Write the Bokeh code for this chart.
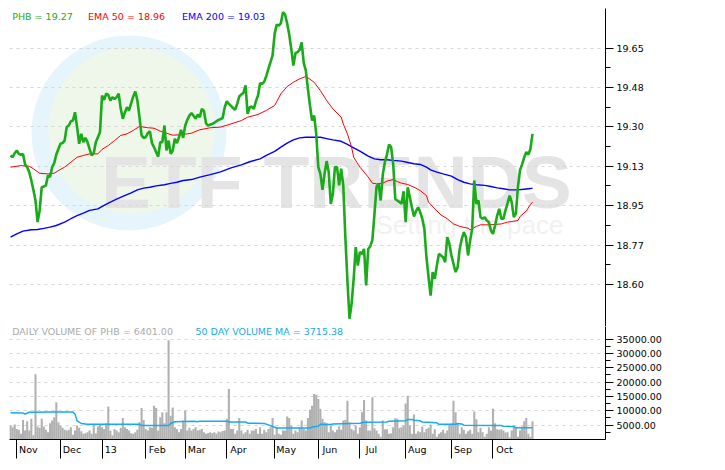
from bokeh.plotting import figure
from bokeh.models import Range1d, FixedTicker, Label
from bokeh.layouts import column
from bokeh.embed import file_html
from bokeh.resources import INLINE
from bokeh.core.properties import value

# ---------------- data ----------------
price = [
    19.173, 19.165, 19.183, 19.195, 19.180, 19.176, 19.180, 19.133, 19.121, 19.099,
    19.062, 19.020, 18.973, 18.877, 18.929, 19.032, 19.035, 19.040, 19.084, 19.077,
    19.121, 19.139, 19.177, 19.202, 19.225, 19.228, 19.239, 19.299, 19.306, 19.325,
    19.328, 19.365, 19.299, 19.225, 19.269, 19.232, 19.251, 19.232, 19.202, 19.173,
    19.183, 19.232, 19.254, 19.276, 19.439, 19.420, 19.447, 19.442, 19.417, 19.432,
    19.424, 19.432, 19.447, 19.380, 19.336, 19.365, 19.387, 19.373, 19.405, 19.435,
    19.457, 19.417, 19.343, 19.262, 19.251, 19.254, 19.272, 19.281, 19.228, 19.210,
    19.188, 19.168, 19.232, 19.232, 19.306, 19.195, 19.239, 19.180, 19.195, 19.247,
    19.228, 19.254, 19.287, 19.251, 19.306, 19.331, 19.350, 19.361, 19.349, 19.336,
    19.355, 19.343, 19.380, 19.370, 19.316, 19.306, 19.310, 19.313, 19.318, 19.325,
    19.331, 19.334, 19.340, 19.387, 19.414, 19.402, 19.393, 19.384, 19.376, 19.402,
    19.435, 19.444, 19.451, 19.484, 19.358, 19.387, 19.390, 19.380, 19.414, 19.439,
    19.494, 19.491, 19.501, 19.526, 19.558, 19.587, 19.617, 19.713, 19.754, 19.750,
    19.760, 19.809, 19.799, 19.760, 19.710, 19.646, 19.572, 19.627, 19.632, 19.642,
    19.675, 19.583, 19.550, 19.469, 19.395, 19.328, 19.350, 19.269, 19.121, 19.091,
    19.020, 19.091, 19.148, 19.099, 18.958, 19.003, 19.121, 19.121, 19.040, 19.114,
    19.040, 18.810, 18.618, 18.448, 18.514, 18.625, 18.766, 18.684, 18.744, 18.736,
    18.758, 18.596, 18.758, 18.770, 18.798, 18.914, 19.035, 19.047, 18.973, 19.088,
    19.143, 19.177, 19.222, 19.210, 19.136, 18.980, 18.973, 18.966, 18.958, 19.014,
    18.877, 19.032, 18.988, 18.943, 18.902, 18.926, 18.943, 18.921, 18.892, 18.847,
    18.721, 18.633, 18.551, 18.655, 18.625, 18.684, 18.736, 18.729, 18.721, 18.699,
    18.810, 18.781, 18.729, 18.692, 18.655, 18.677, 18.758, 18.803, 18.832, 18.810,
    18.729, 18.795, 18.847, 19.062, 18.958, 18.973, 18.899, 18.892, 18.899, 18.884,
    18.877, 18.840, 18.825, 18.862, 18.906, 18.936, 18.892, 18.892, 18.929, 18.961,
    18.995, 18.966, 18.899, 18.914, 19.032, 19.109, 19.133, 19.165, 19.188, 19.177,
    19.202, 19.269,
]
days = list(range(len(price)))

ema50_days = [0, 5, 9, 11, 14, 18, 21, 23, 26, 29, 32, 35, 38, 42, 44, 47, 50, 53, 56, 59,
              62, 66, 69, 72, 75, 78, 82, 85, 87, 91, 96, 101, 106, 111, 114, 119, 123, 127,
              130, 133, 136, 139, 142, 143, 146, 149, 152, 155, 159, 160, 162, 164, 165, 168,
              172, 174, 176, 179, 181, 184, 186, 188, 191, 194, 197, 200, 201, 204, 207, 210,
              213, 216, 220, 221, 224, 226, 229, 232, 236, 239, 242, 244, 245, 248, 250, 251]
ema50 = [19.121, 19.128, 19.125, 19.114, 19.094, 19.091, 19.094, 19.106, 19.121, 19.143,
         19.165, 19.173, 19.180, 19.180, 19.200, 19.217, 19.239, 19.262, 19.269, 19.284,
         19.302, 19.296, 19.294, 19.281, 19.272, 19.263, 19.265, 19.269, 19.272, 19.287,
         19.296, 19.299, 19.313, 19.328, 19.343, 19.355, 19.373, 19.395, 19.447, 19.479,
         19.498, 19.513, 19.524, 19.518, 19.498, 19.461, 19.417, 19.380, 19.343, 19.313,
         19.269, 19.210, 19.165, 19.121, 19.077, 19.050, 19.047, 19.050, 19.059, 19.066,
         19.057, 19.050, 19.044, 19.032, 19.017, 18.995, 18.966, 18.936, 18.909, 18.892,
         18.869, 18.858, 18.850, 18.843, 18.858, 18.865, 18.865, 18.866, 18.869, 18.877,
         18.881, 18.884, 18.902, 18.926, 18.955, 18.966]

ema200_days = [0, 3, 6, 10, 13, 16, 19, 22, 26, 29, 32, 35, 38, 42, 45, 48, 51, 54, 58, 61,
               64, 67, 70, 74, 77, 80, 83, 87, 91, 96, 101, 106, 111, 115, 120, 123, 127, 130,
               133, 136, 139, 142, 146, 149, 152, 155, 159, 162, 165, 168, 172, 175, 178, 181,
               184, 188, 191, 194, 197, 200, 202, 205, 208, 212, 215, 218, 221, 224, 228, 231,
               234, 237, 240, 244, 247, 250, 251]
ema200 = [18.810, 18.825, 18.837, 18.843, 18.844, 18.849, 18.855, 18.862, 18.877, 18.892,
          18.906, 18.917, 18.929, 18.936, 18.951, 18.966, 18.979, 18.991, 19.007, 19.020,
          19.028, 19.032, 19.038, 19.043, 19.049, 19.054, 19.062, 19.066, 19.077, 19.088,
          19.100, 19.118, 19.131, 19.145, 19.158, 19.173, 19.191, 19.210, 19.228, 19.242,
          19.251, 19.254, 19.254, 19.254, 19.248, 19.242, 19.236, 19.222, 19.207, 19.192,
          19.170, 19.158, 19.154, 19.154, 19.151, 19.148, 19.142, 19.136, 19.133, 19.121,
          19.109, 19.099, 19.091, 19.081, 19.066, 19.054, 19.047, 19.043, 19.040, 19.035,
          19.029, 19.025, 19.020, 19.020, 19.023, 19.026, 19.028]

volume = [
    4900, 4300, 5200, 3700, 3400, 2000, 6800, 3100, 6400, 3100,
    7200, 1500, 22800, 4500, 4100, 7200, 4500, 3400, 2500, 5700,
    6600, 7800, 13000, 6000, 4900, 4100, 3400, 3100, 3400, 4300,
    1700, 3100, 4900, 4100, 2900, 2000, 2200, 2500, 3100, 2000,
    5200, 2200, 4500, 5200, 4300, 3700, 5700, 11500, 3100, 1500,
    3700, 3100, 2500, 4100, 7500, 4300, 3700, 3100, 2200, 2000,
    2500, 3400, 6000, 11000, 6800, 3700, 3100, 4300, 4100, 11800,
    11000, 3100, 7800, 9500, 5700, 9500, 34600, 8300, 11200, 4300,
    3700, 2500, 3700, 6600, 10100, 3100, 4100, 3100, 3700, 4300,
    3100, 3400, 3700, 2500, 2000, 2300, 2500, 2200, 2500, 2000,
    2800, 2500, 3000, 3100, 7200, 17600, 3700, 3700, 2000, 3100,
    7500, 3100, 2000, 2500, 3400, 2000, 3100, 3100, 3700, 2000,
    4300, 2000, 3400, 2500, 3700, 4300, 7500, 1700, 4300, 2000,
    1700, 3100, 3100, 8000, 7500, 4900, 2000, 3100, 2500, 4300,
    6600, 3700, 3100, 7500, 10500, 11800, 15900, 15600, 14100, 10700,
    7200, 6000, 5700, 2500, 4900, 3100, 2500, 3400, 4500, 3400,
    6600, 6800, 13500, 6000, 3700, 3100, 4900, 2000, 4300, 9500,
    13800, 6600, 3100, 3100, 14700, 3900, 3100, 2000, 1000, 6600,
    3600, 3600, 2000, 2200, 4300, 7400, 7200, 3900, 4300, 4900,
    12600, 15300, 4900, 2000, 8700, 2000, 2900, 2500, 4500, 2500,
    3700, 4100, 5200, 2000, 3600, 1000, 2000, 2500, 3400, 2200,
    3100, 5400, 5700, 13500, 9500, 5700, 2000, 4300, 3400, 2000,
    2900, 3400, 2000, 9800, 7100, 2500, 4100, 2500, 1000, 2000,
    4300, 3100, 10700, 5700, 3600, 3400, 3600, 3100, 2400, 2500,
    800, 3100, 4900, 4300, 1000, 3100, 4500, 6400, 7500, 2000,
    1000, 6401,
]

vol_ma_days = [0, 6, 7, 9, 20, 30, 31, 32, 34, 37, 62, 63, 76, 77, 79, 88, 90, 91, 104, 105,
               113, 114, 122, 124, 128, 144, 145, 148, 149, 154, 155, 168, 170, 181, 182, 190,
               191, 193, 194, 197, 198, 205, 206, 214, 215, 217, 218, 236, 237, 242, 243, 251]
vol_ma = [9300, 9200, 8900, 9500, 9600, 9600, 8800, 6500, 5600, 5300, 5300, 4900, 4900, 5600,
          6200, 6400, 6200, 6400, 6400, 6100, 6100, 5700, 5600, 5100, 4000, 4000, 4400, 4600,
          5300, 5200, 5400, 5700, 6000, 6100, 6400, 6500, 7000, 7000, 6700, 6500, 6100, 5800,
          5300, 5300, 5600, 5400, 5000, 4900, 4600, 4500, 4100, 4100]

month_ticks = [3, 24, 44, 65, 84, 104, 127, 148, 168, 190, 212, 232]
month_labels = ["Nov", "Dec", "13", "Feb", "Mar", "Apr", "May", "Jun", "Jul", "Aug", "Sep", "Oct"]

price_ticks = [18.60, 18.775, 18.95, 19.125, 19.30, 19.475, 19.65]
price_tick_labels = ["18.60", "18.77", "18.95", "19.13", "19.30", "19.48", "19.65"]
vol_ticks = [5000, 10000, 15000, 20000, 25000, 30000, 35000]
vol_tick_labels = ["5000.00", "10000.00", "15000.00", "20000.00", "25000.00", "30000.00", "35000.00"]

legend_price = "PHB = 19.27"
legend_ema50 = "EMA 50 = 18.96"
legend_ema200 = "EMA 200 = 19.03"
legend_vol = "DAILY VOLUME OF PHB = 6401.00"
legend_vol_ma = "50 DAY VOLUME MA = 3715.38"

# ---------------- styling ----------------
FONT = "DejaVu Sans"
FS = "9.5px"
GREEN = "#1aaa1a"
GRID = "#d6d6d6"
PX_PER_DAY = 596 / 286.6

xr = Range1d(-0.5, 286.1)


def style_right_axis(ax, ticks, labels, minor):
    ax.ticker = FixedTicker(ticks=ticks, minor_ticks=minor)
    ax.major_label_overrides = dict(zip(ticks, labels))
    ax.axis_line_color = "black"
    ax.major_tick_line_color = "black"
    ax.minor_tick_line_color = "black"
    ax.major_tick_out = 8
    ax.major_tick_in = 0
    ax.minor_tick_out = 5
    ax.minor_tick_in = 0
    ax.major_label_standoff = 3
    ax.major_label_text_font = FONT
    ax.major_label_text_font_size = FS
    ax.major_label_text_color = "black"


# ---- price panel ----
p1 = figure(frame_width=596, frame_height=318, x_range=xr, y_range=Range1d(18.4135, 19.8256),
            x_axis_location=None, y_axis_location="right", toolbar_location=None,
            output_backend="svg", min_border_left=9, min_border_top=8, min_border_bottom=0,
            min_border_right=5, outline_line_color=None, background_fill_color="white",
            border_fill_color="white")
price_minor = [(a + b) / 2 for a, b in zip(price_ticks[:-1], price_ticks[1:])]
style_right_axis(p1.yaxis[0], price_ticks, price_tick_labels, price_minor)
p1.xgrid.visible = False
p1.ygrid.grid_line_color = GRID
p1.ygrid.grid_line_dash = "3 4"

# watermark
p1.scatter(x=[56.96], y=[19.2728], size=195, marker="circle", fill_color="#e6f4fb",
           line_color=None, level="image")
p1.scatter(x=[58.2], y=[19.284], size=167, marker="circle", fill_color="#eef7ea",
           line_color=None, level="image")
p1.text(x=[43.5], y=[19.053], text=["ETF TRENDS"], text_font=value("Liberation Sans"),
        text_font_style="bold", text_font_size="75px", text_color="#e4e4e4",
        text_baseline="alphabetic", text_align="left", level="image")
p1.text(x=[175.5], y=[18.862], text=["Setting the pace"], text_font=value("Liberation Sans"),
        text_font_size="26px", text_color="#f1f1f1", text_baseline="alphabetic",
        text_align="left", level="image")

p1.line(ema200_days, ema200, line_color="#0000ff", line_width=1.4)
p1.line(ema50_days, ema50, line_color="#ff0000", line_width=1.0)
p1.line(days, price, line_color=GREEN, line_width=2.6)

for xv, txt, col in [(0.8, legend_price, GREEN), (37.3, legend_ema50, "#ff0000"),
                     (82.5, legend_ema200, "#0000ff")]:
    p1.add_layout(Label(x=xv, y=19.791, text=txt, text_color=col, text_font=FONT,
                        text_font_size=FS, text_baseline="middle", text_align="left"))

# ---- volume panel ----
p2 = figure(frame_width=596, frame_height=113, x_range=xr, y_range=Range1d(0, 39414),
            x_axis_location="below", y_axis_location="right", toolbar_location=None,
            output_backend="svg", min_border_left=9, min_border_top=0, min_border_bottom=23,
            min_border_right=5, outline_line_color=None, background_fill_color="white",
            border_fill_color="white")
vol_minor = [2500] + [(a + b) / 2 for a, b in zip(vol_ticks[:-1], vol_ticks[1:])]
style_right_axis(p2.yaxis[0], vol_ticks, vol_tick_labels, vol_minor)
p2.xgrid.visible = False
p2.ygrid.grid_line_color = GRID
p2.ygrid.grid_line_dash = "3 4"

# x axis: long month-boundary marks (minor ticks) with the month name just right of each
label_pos = [t + (3 + 0.6 * 9.5 * len(s) / 2) / PX_PER_DAY for t, s in zip(month_ticks, month_labels)]
xa = p2.xaxis[0]
xa.ticker = FixedTicker(ticks=label_pos, minor_ticks=month_ticks)
xa.major_label_overrides = dict(zip(label_pos, month_labels))
xa.major_label_text_font = FONT
xa.major_label_text_font_size = FS
xa.major_label_text_color = "black"
xa.major_label_standoff = -15
xa.axis_line_color = "black"
xa.major_tick_out = 0
xa.major_tick_in = 0
xa.major_tick_line_color = None
xa.minor_tick_line_color = "black"
xa.minor_tick_out = 19
xa.minor_tick_in = 0

p2.vbar(x=days, top=volume, width=1.0, fill_color="#b0b0b0", line_color=None)
p2.line(vol_ma_days, vol_ma, line_color="#16aaf0", line_width=1.5)

p2.add_layout(Label(x=0.8, y=37775, text=legend_vol, text_color="#aaaaaa", text_font=FONT,
                    text_font_size=FS, text_baseline="middle", text_align="left"))
p2.add_layout(Label(x=88.9, y=37775, text=legend_vol_ma, text_color="#16aaf0", text_font=FONT,
                    text_font_size=FS, text_baseline="middle", text_align="left"))

layout = column(p1, p2, spacing=0)
open("out.html", "w").write(file_html(layout, INLINE))
